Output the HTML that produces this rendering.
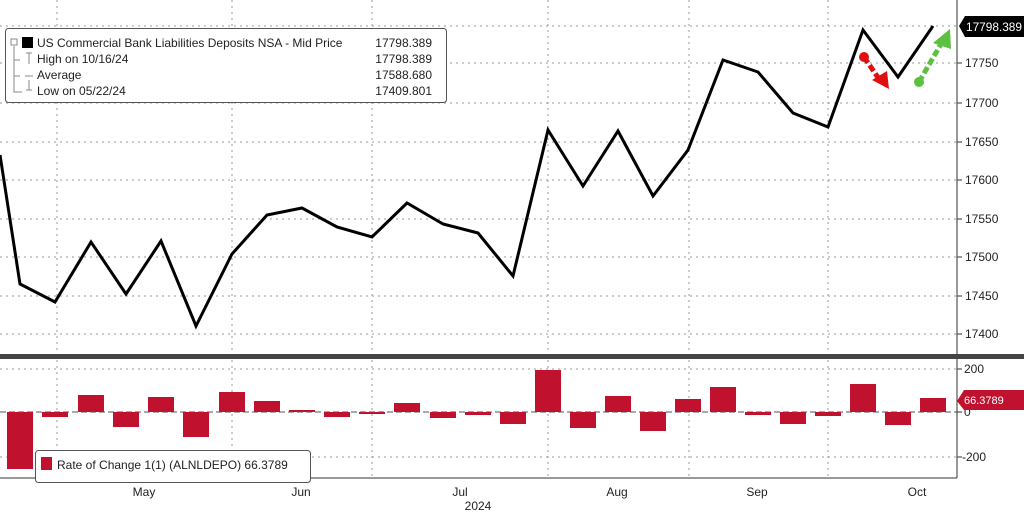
<!DOCTYPE html>
<html><head><meta charset="utf-8"><style>
body{margin:0;background:#fff;}
svg{display:block;font-family:"Liberation Sans",sans-serif;}
</style></head><body>
<svg width="1024" height="512" viewBox="0 0 1024 512" xmlns="http://www.w3.org/2000/svg">
<rect width="1024" height="512" fill="#fff"/>
<g stroke="#999" stroke-width="1" stroke-dasharray="2,4">
<line x1="0" y1="26" x2="957" y2="26"/>
<line x1="0" y1="63" x2="957" y2="63"/>
<line x1="0" y1="103" x2="957" y2="103"/>
<line x1="0" y1="142" x2="957" y2="142"/>
<line x1="0" y1="180" x2="957" y2="180"/>
<line x1="0" y1="219" x2="957" y2="219"/>
<line x1="0" y1="257" x2="957" y2="257"/>
<line x1="0" y1="296" x2="957" y2="296"/>
<line x1="0" y1="334" x2="957" y2="334"/>
<line x1="0" y1="369" x2="957" y2="369"/>
<line x1="0" y1="457" x2="957" y2="457"/>
<line x1="57" y1="0" x2="57" y2="478"/>
<line x1="232" y1="0" x2="232" y2="478"/>
<line x1="372" y1="0" x2="372" y2="478"/>
<line x1="548" y1="0" x2="548" y2="478"/>
<line x1="689" y1="0" x2="689" y2="478"/>
<line x1="828" y1="0" x2="828" y2="478"/>
</g>
<line x1="0" y1="412" x2="957" y2="412" stroke="#aaa" stroke-width="2" stroke-dasharray="6,3"/>
<rect x="0" y="354" width="1024" height="5" fill="#444"/>
<line x1="957" y1="0" x2="957" y2="354" stroke="#333"/>
<line x1="957" y1="359" x2="957" y2="478" stroke="#333"/>
<line x1="0" y1="478" x2="957" y2="478" stroke="#333"/>
<g font-size="12" fill="#222">
<text x="965" y="67">17750</text><text x="965" y="107">17700</text><text x="965" y="146">17650</text>
<text x="965" y="184">17600</text><text x="965" y="223">17550</text><text x="965" y="261">17500</text>
<text x="965" y="300">17450</text><text x="965" y="338">17400</text>
<text x="964" y="373">200</text><text x="964" y="416">0</text><text x="962" y="461">-200</text>
</g>
<g stroke="#333"><line x1="957" y1="63" x2="962" y2="63"/><line x1="957" y1="103" x2="962" y2="103"/><line x1="957" y1="142" x2="962" y2="142"/><line x1="957" y1="180" x2="962" y2="180"/><line x1="957" y1="219" x2="962" y2="219"/><line x1="957" y1="257" x2="962" y2="257"/><line x1="957" y1="296" x2="962" y2="296"/><line x1="957" y1="334" x2="962" y2="334"/><line x1="957" y1="369" x2="962" y2="369"/><line x1="957" y1="412" x2="962" y2="412"/><line x1="957" y1="457" x2="962" y2="457"/></g>
<g font-size="12" fill="#222" text-anchor="middle">
<text x="144" y="496">May</text><text x="301" y="496">Jun</text><text x="460" y="496">Jul</text>
<text x="617" y="496">Aug</text><text x="757" y="496">Sep</text><text x="917" y="496">Oct</text>
<text x="478" y="510">2024</text>
</g>
<polyline fill="none" stroke="#000" stroke-width="3" stroke-linejoin="miter" points="0,155 20,284 55,302 91,242 126,294 161,241 196,326 232,254 267,215 302,208 337,227 372,237 407,203 443,224 478,233 513,276 548,130 583,186 618,131 653,196 688,150 723,60 758,72 793,113 828,127 863,30 898,77 933,26"/>
<g fill="#c0122f">
<rect x="7" y="412" width="26" height="57"/>
<rect x="42" y="412" width="26" height="5"/>
<rect x="78" y="395" width="26" height="17"/>
<rect x="113" y="412" width="26" height="15"/>
<rect x="148" y="397" width="26" height="15"/>
<rect x="183" y="412" width="26" height="25"/>
<rect x="219" y="392" width="26" height="20"/>
<rect x="254" y="401" width="26" height="11"/>
<rect x="289" y="410" width="26" height="2"/>
<rect x="324" y="412" width="26" height="5"/>
<rect x="359" y="412" width="26" height="2"/>
<rect x="394" y="403" width="26" height="9"/>
<rect x="430" y="412" width="26" height="6"/>
<rect x="465" y="412" width="26" height="3"/>
<rect x="500" y="412" width="26" height="12"/>
<rect x="535" y="370" width="26" height="42"/>
<rect x="570" y="412" width="26" height="16"/>
<rect x="605" y="396" width="26" height="16"/>
<rect x="640" y="412" width="26" height="19"/>
<rect x="675" y="399" width="26" height="13"/>
<rect x="710" y="387" width="26" height="25"/>
<rect x="745" y="412" width="26" height="3"/>
<rect x="780" y="412" width="26" height="12"/>
<rect x="815" y="412" width="26" height="4"/>
<rect x="850" y="384" width="26" height="28"/>
<rect x="885" y="412" width="26" height="13"/>
<rect x="920" y="398" width="26" height="14"/>
</g>
<path d="M959,26 L965,16 L1024,16 L1024,37 L965,37 Z" fill="#000"/>
<text x="966" y="31" font-size="11.5" fill="#fff" textLength="56" lengthAdjust="spacingAndGlyphs">17798.389</text>
<path d="M957,401 L964,390 L1024,390 L1024,410 L964,410 Z" fill="#c0122f"/>
<text x="964" y="404" font-size="11" fill="#fff">66.3789</text>
<circle cx="864" cy="57" r="5" fill="#e01010"/>
<line x1="864" y1="57" x2="879" y2="79" stroke="#e01010" stroke-width="5" stroke-dasharray="7,3"/>
<path d="M872,80 L889,89 L887,71 Z" fill="#e01010"/>
<circle cx="919" cy="82" r="5" fill="#5cc040"/>
<line x1="919" y1="82" x2="941" y2="44" stroke="#5cc040" stroke-width="5" stroke-dasharray="7,3"/>
<path d="M933,43 L950,29 L951,49 Z" fill="#5cc040"/>
<rect x="5.5" y="28.5" width="441" height="74" rx="3" fill="#fff" stroke="#555"/>
<g font-size="12" fill="#222">
<rect x="22" y="37" width="11" height="11" fill="#000"/>
<text x="37" y="47">US Commercial Bank Liabilities Deposits NSA - Mid Price</text><text x="432" y="47" text-anchor="end">17798.389</text>
<text x="37" y="63">High on 10/16/24</text><text x="432" y="63" text-anchor="end">17798.389</text>
<text x="37" y="79">Average</text><text x="432" y="79" text-anchor="end">17588.680</text>
<text x="37" y="95">Low on 05/22/24</text><text x="432" y="95" text-anchor="end">17409.801</text>
</g>
<g stroke="#888" fill="none"><path d="M14,46 V92 H22 M14,60 H20 M14,76 H20"/><rect x="11" y="39" width="6" height="6"/><path d="M26,53 H32 M29,53 V64 M25,76 H33 M26,90 H32 M29,80 V90"/></g>
<rect x="35.5" y="450.5" width="275" height="32" rx="3" fill="#fff" stroke="#555"/>
<rect x="41" y="457" width="11" height="13" fill="#c0122f"/>
<text x="57" y="469" font-size="12" fill="#222">Rate of Change 1(1) (ALNLDEPO) 66.3789</text>
</svg>
</body></html>
